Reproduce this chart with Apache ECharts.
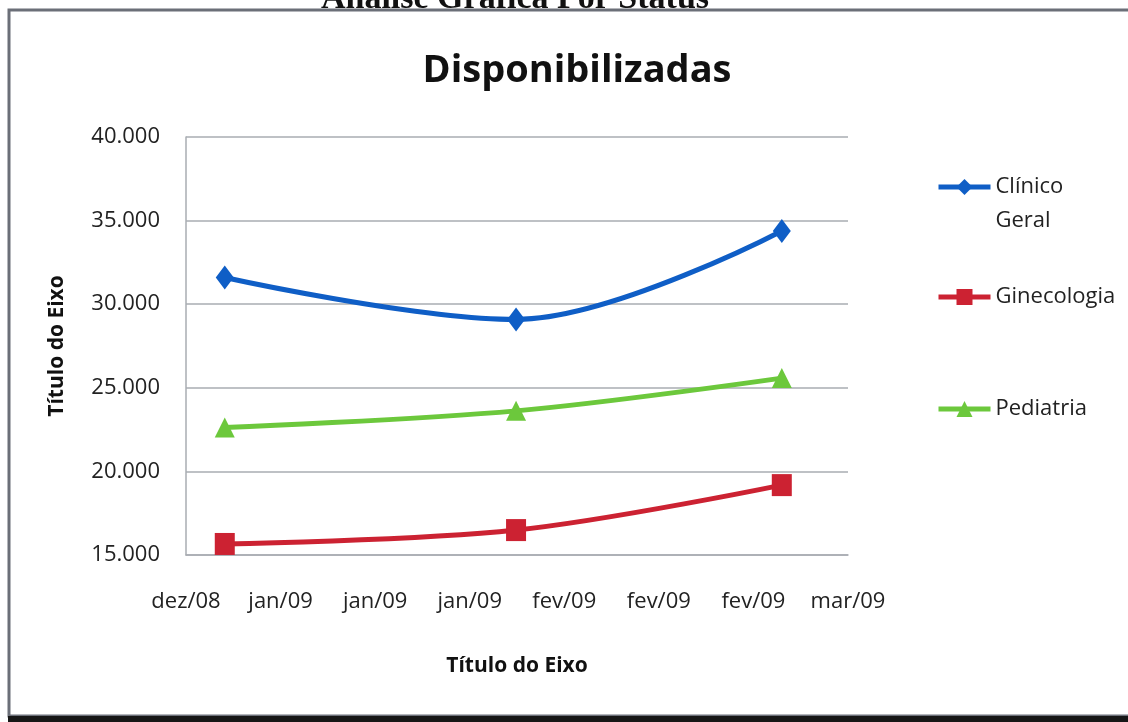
<!DOCTYPE html>
<html>
<head>
<meta charset="utf-8">
<script src="https://cdn.jsdelivr.net/npm/echarts@6/dist/echarts.min.js"></script>
<style>
  html, body { margin: 0; padding: 0; background: #fff; }
  #grafico { width: 1128px; height: 722px; }
</style>
</head>
<body>
<div id="grafico"></div>
<script>
var tickLabels = ["dez/08", "jan/09", "jan/09", "jan/09", "fev/09", "fev/09", "fev/09", "mar/09"];
// posicao das datas medida em unidades de marca do eixo
var datas = [0.41, 3.49, 6.3];
var clinicoGeral = [31600, 29090, 34380];
var ginecologia = [15660, 16490, 19180];
var pediatria = [22620, 23620, 25580];

var nomes = ["Clínico Geral", "Ginecologia", "Pediatria"];
var cores = ["#0f5ec6", "#cc2232", "#6cc83c"];

function pares(valores) {
  return datas.map(function (d, i) {
    return [d, valores[i]];
  });
}

var chartDom = document.getElementById("grafico");
var myChart = echarts.init(chartDom);
var fonte = "'Open Sans', 'Noto Sans', sans-serif";

var legendaBase = {
  left: 931,
  itemWidth: 52,
  itemHeight: 20,
  lineStyle: { width: 5 },
  textStyle: { fontFamily: fonte, fontSize: 22, color: "#222" },
};

var option = {
  backgroundColor: "#fff",
  animation: false,
  title: {
    text: "Disponibilizadas",
    left: 572,
    top: 47,
    textAlign: "center",
    textStyle: {
      fontFamily: fonte,
      fontSize: 38,
      fontWeight: "bold",
      color: "#111",
    },
  },
  graphic: [
    {
      type: "text",
      style: {
        text: "Análise Gráfica Por Status",
        x: 515,
        y: 16,
        align: "center",
        verticalAlign: "bottom",
        textAlign: "center",
        textVerticalAlign: "bottom",
        fontFamily: "Liberation Serif",
        fontSize: 34,
        fontWeight: "bold",
        fill: "#111",
      },
    },
    {
      type: "rect",
      shape: { x: 9, y: 10, width: 1300, height: 706 },
      style: { fill: "none", stroke: "#6b6f78", lineWidth: 3 },
    },
    {
      type: "line",
      shape: { x1: 8, y1: 719, x2: 1128, y2: 719 },
      style: { stroke: "#161616", lineWidth: 6 },
    },
  ],
  legend: [
    Object.assign({}, legendaBase, {
      data: [nomes[0]],
      top: 131,
      formatter: function () {
        return "\nClínico\nGeral";
      },
      textStyle: {
        fontFamily: fonte,
        fontSize: 22,
        color: "#222",
        lineHeight: 34,
      },
    }),
    Object.assign({}, legendaBase, { data: [nomes[1]], top: 281 }),
    Object.assign({}, legendaBase, { data: [nomes[2]], top: 393 }),
  ],
  grid: {
    left: 186,
    right: 280,
    top: 137,
    bottom: 167,
  },
  xAxis: {
    type: "value",
    min: 0,
    max: 7,
    interval: 1,
    name: "Título do Eixo",
    nameLocation: "middle",
    nameGap: 101,
    nameTextStyle: {
      fontFamily: fonte,
      fontSize: 21,
      fontWeight: "bold",
      color: "#111",
    },
    axisLine: { show: true, lineStyle: { color: "#a9acb2", width: 1.5 } },
    axisTick: { show: false },
    splitLine: { show: false },
    axisLabel: {
      margin: 36,
      fontFamily: fonte,
      fontSize: 22,
      color: "#222",
      formatter: function (v) {
        return tickLabels[Math.round(v)];
      },
    },
  },
  yAxis: {
    type: "value",
    min: 15000,
    max: 40000,
    interval: 5000,
    name: "Título do Eixo",
    nameLocation: "middle",
    nameRotate: 90,
    nameGap: 118,
    nameTextStyle: {
      fontFamily: fonte,
      fontSize: 21,
      fontWeight: "bold",
      color: "#111",
    },
    axisLine: { show: true, lineStyle: { color: "#a9acb2", width: 1.5 } },
    axisTick: { show: false },
    splitLine: { show: true, lineStyle: { color: "#a9acb2", width: 1.5 } },
    axisLabel: {
      margin: 26,
      fontFamily: fonte,
      fontSize: 22,
      color: "#222",
      formatter: function (v) {
        return (v / 1000).toFixed(3);
      },
    },
  },
  series: [
    {
      name: nomes[0],
      type: "line",
      smooth: 0.35,
      data: pares(clinicoGeral),
      symbol: "diamond",
      symbolSize: [18, 24],
      lineStyle: { width: 5, color: cores[0] },
      itemStyle: { color: cores[0] },
    },
    {
      name: nomes[1],
      type: "line",
      smooth: 0.35,
      data: pares(ginecologia),
      symbol: "rect",
      symbolSize: [20, 22],
      lineStyle: { width: 5, color: cores[1] },
      itemStyle: { color: cores[1] },
    },
    {
      name: nomes[2],
      type: "line",
      smooth: 0.35,
      data: pares(pediatria),
      symbol: "triangle",
      symbolSize: [20, 20],
      lineStyle: { width: 5, color: cores[2] },
      itemStyle: { color: cores[2] },
    },
  ],
};

option && myChart.setOption(option);
</script>
</body>
</html>
